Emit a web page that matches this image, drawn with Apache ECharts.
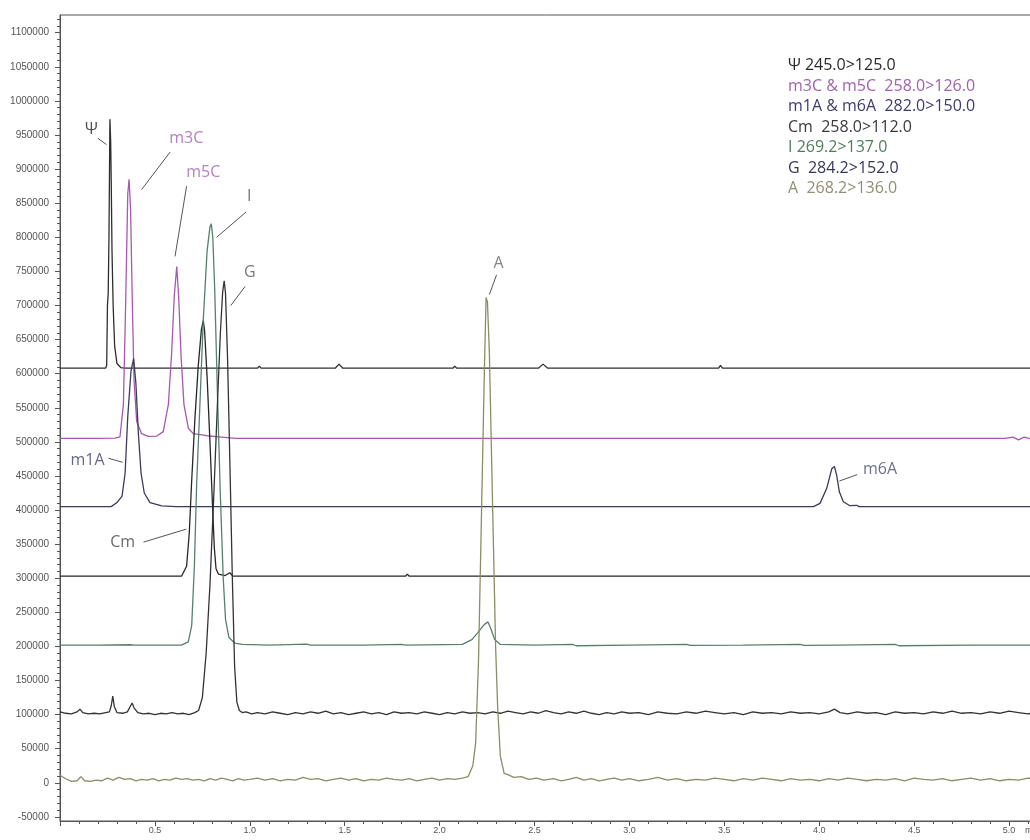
<!DOCTYPE html>
<html>
<head>
<meta charset="utf-8">
<script src="https://cdn.jsdelivr.net/npm/echarts@6/dist/echarts.min.js"></script>
<style>
  html, body { margin: 0; padding: 0; background: #fff; }
  #main { width: 1030px; height: 840px; }
</style>
</head>
<body>
<div id="main"></div>
<script>
// MRM traces: [retention time (min), intensity]
const psiTrace = [
  [0.000, 608000], [0.240, 608000], [0.246, 612000], [0.250, 700000], [0.254, 718000],
  [0.258, 800000], [0.263, 973000], [0.267, 940000], [0.270, 880000], [0.274, 780000],
  [0.280, 700000], [0.288, 640000], [0.300, 615000], [0.320, 609000], [0.340, 608000],
  [1.040, 608000], [1.050, 611000], [1.060, 608000], [1.450, 608000], [1.470, 614000],
  [1.490, 608000], [2.070, 608000], [2.080, 611000], [2.090, 608000], [2.520, 608000],
  [2.545, 614000], [2.570, 608000], [3.470, 608000], [3.480, 612000], [3.490, 608000],
  [3.860, 608000], [3.870, 610000], [3.880, 608000], [5.200, 608000]
];
const m3cM5cTrace = [
  [0.000, 505000], [0.200, 505000], [0.290, 505500], [0.316, 507500], [0.334, 555000],
  [0.346, 704000], [0.357, 864000], [0.364, 885000], [0.372, 839000], [0.381, 704000],
  [0.390, 590000], [0.404, 530000], [0.430, 512000], [0.465, 508000], [0.510, 508500],
  [0.544, 515000], [0.571, 555000], [0.588, 630000], [0.602, 714000], [0.615, 757000],
  [0.625, 714000], [0.638, 625000], [0.653, 555000], [0.676, 520000], [0.702, 512000],
  [0.773, 509000], [0.850, 507000], [0.930, 505000], [1.860, 505000], [1.870, 507000],
  [1.880, 505000], [4.980, 505000], [5.020, 507000], [5.050, 503000], [5.080, 507000],
  [5.120, 504000], [5.200, 505000]
];
const m1aM6aTrace = [
  [0.000, 405000], [0.270, 405000], [0.300, 411000], [0.327, 420500], [0.343, 454000],
  [0.357, 537000], [0.374, 604000], [0.388, 622000], [0.400, 585000], [0.413, 512000],
  [0.427, 454000], [0.444, 425000], [0.474, 411000], [0.536, 406000], [0.610, 405000],
  [3.970, 405000], [4.004, 409800], [4.039, 431500], [4.066, 460500], [4.080, 464000],
  [4.092, 450800], [4.106, 426700], [4.127, 412200], [4.162, 406400], [4.197, 407000],
  [4.210, 405000], [5.200, 405000]
];
const cmTrace = [
  [0.000, 303000], [0.640, 303000], [0.667, 317500], [0.681, 366000], [0.693, 438500],
  [0.710, 530000], [0.728, 610000], [0.745, 665000], [0.755, 678000], [0.762, 662000],
  [0.775, 595000], [0.790, 500000], [0.803, 410000], [0.813, 345000], [0.822, 314000],
  [0.835, 306000], [0.870, 304000], [0.895, 308000], [0.910, 303000], [1.820, 303000],
  [1.830, 306000], [1.840, 303000], [2.740, 303000], [2.750, 305000], [2.760, 303000],
  [5.200, 303000]
];
const iTrace = [
  [0.000, 202000], [0.200, 202000], [0.370, 202500], [0.380, 204500], [0.390, 202000],
  [0.640, 202000], [0.676, 206800], [0.694, 231000], [0.708, 318000], [0.720, 439000],
  [0.735, 540000], [0.755, 680000], [0.775, 780000], [0.790, 815000], [0.797, 820000],
  [0.805, 800000], [0.815, 725000], [0.830, 565000], [0.845, 420000], [0.860, 300000],
  [0.872, 240000], [0.890, 213000], [0.920, 205000], [0.960, 203000], [1.100, 202000],
  [1.300, 203500], [1.320, 202000], [1.600, 202000], [1.800, 203000], [1.820, 202000],
  [2.120, 203000], [2.170, 210000], [2.200, 220000], [2.235, 232000], [2.255, 236000],
  [2.270, 226000], [2.290, 210000], [2.320, 203000], [2.500, 202000], [2.700, 203000],
  [2.720, 201000], [3.000, 202000], [3.300, 203000], [3.320, 201500], [3.600, 202000],
  [3.900, 203000], [3.920, 201500], [4.100, 202000], [4.400, 203000], [4.420, 201000],
  [4.800, 202000], [5.200, 202000]
];
const gTrace = [
  [0.00, 104000], [0.03, 102000], [0.06, 101000], [0.09, 104000], [0.105, 108000],
  [0.12, 103000], [0.15, 101000], [0.18, 102000], [0.21, 101000], [0.24, 103000],
  [0.26, 104000], [0.27, 113000], [0.278, 127000], [0.286, 112000], [0.30, 103000],
  [0.33, 102000], [0.355, 104000], [0.37, 112000], [0.38, 117000], [0.39, 110000],
  [0.41, 103000], [0.44, 101000], [0.47, 102000], [0.50, 100000], [0.53, 102000],
  [0.56, 101000], [0.59, 103000], [0.62, 101000], [0.65, 102000], [0.68, 100000],
  [0.71, 103000], [0.73, 106000], [0.75, 125000], [0.77, 190000], [0.79, 290000],
  [0.81, 420000], [0.83, 560000], [0.845, 660000], [0.857, 720000], [0.865, 736000],
  [0.872, 718000], [0.883, 620000], [0.895, 470000], [0.908, 300000], [0.92, 170000],
  [0.932, 118000], [0.945, 106000], [0.96, 103000], [0.98, 104000], [1.01, 101000],
  [1.04, 103000], [1.08, 101000], [1.12, 104000], [1.16, 102000], [1.20, 100000],
  [1.24, 103000], [1.28, 101000], [1.32, 104000], [1.36, 102000], [1.40, 105000],
  [1.44, 101000], [1.48, 103000], [1.52, 100000], [1.56, 102000], [1.60, 104000],
  [1.64, 101000], [1.68, 103000], [1.72, 100000], [1.76, 104000], [1.80, 102000],
  [1.84, 103000], [1.88, 101000], [1.92, 104000], [1.96, 102000], [2.00, 100000],
  [2.04, 103000], [2.08, 101000], [2.12, 104000], [2.16, 102000], [2.20, 103000],
  [2.24, 101000], [2.28, 104000], [2.32, 102000], [2.36, 105000], [2.40, 103000],
  [2.44, 101000], [2.48, 104000], [2.52, 102000], [2.56, 106000], [2.60, 103000],
  [2.64, 101000], [2.68, 104000], [2.72, 102000], [2.76, 105000], [2.80, 102000],
  [2.84, 100000], [2.88, 103000], [2.92, 101000], [2.96, 104000], [3.00, 102000],
  [3.05, 103000], [3.10, 100000], [3.15, 104000], [3.20, 102000], [3.25, 101000],
  [3.30, 104000], [3.35, 102000], [3.40, 105000], [3.45, 103000], [3.50, 101000],
  [3.55, 103000], [3.60, 100000], [3.65, 104000], [3.70, 102000], [3.75, 103000],
  [3.80, 101000], [3.85, 104000], [3.90, 102000], [3.95, 103000], [4.00, 101000],
  [4.05, 104000], [4.08, 108000], [4.11, 103000], [4.15, 101000], [4.20, 104000],
  [4.25, 102000], [4.30, 103000], [4.35, 100000], [4.40, 104000], [4.45, 102000],
  [4.50, 103000], [4.55, 101000], [4.60, 104000], [4.65, 102000], [4.70, 105000],
  [4.75, 102000], [4.80, 103000], [4.85, 101000], [4.90, 104000], [4.95, 102000],
  [5.00, 105000], [5.05, 103000], [5.10, 101000], [5.15, 104000], [5.20, 103000]
];
const aTrace = [
  [0.00, 11000], [0.03, 6000], [0.06, 2000], [0.09, 3000], [0.11, 9000], [0.13, 3000],
  [0.16, 2000], [0.19, 4000], [0.22, 3000], [0.25, 7000], [0.28, 4000], [0.31, 8000],
  [0.34, 5000], [0.37, 6000], [0.40, 3000], [0.43, 5000], [0.46, 4000], [0.49, 6000],
  [0.52, 3000], [0.55, 5000], [0.58, 4000], [0.61, 7000], [0.64, 5000], [0.67, 6000],
  [0.70, 4000], [0.73, 5000], [0.76, 3000], [0.79, 6000], [0.82, 4000], [0.85, 7000],
  [0.88, 5000], [0.91, 3000], [0.94, 6000], [0.97, 4000], [1.00, 5000], [1.04, 7000],
  [1.08, 4000], [1.12, 6000], [1.16, 3000], [1.20, 5000], [1.24, 4000], [1.28, 8000],
  [1.32, 5000], [1.36, 6000], [1.40, 3000], [1.44, 5000], [1.48, 7000], [1.52, 4000],
  [1.56, 6000], [1.60, 3000], [1.64, 5000], [1.68, 4000], [1.72, 7000], [1.76, 5000],
  [1.80, 4000], [1.84, 6000], [1.88, 3000], [1.92, 5000], [1.96, 7000], [2.00, 4000],
  [2.04, 6000], [2.08, 5000], [2.12, 7000], [2.15, 9000], [2.175, 25000], [2.19, 59000],
  [2.205, 180000], [2.218, 358000], [2.236, 607000], [2.245, 712000], [2.252, 705000],
  [2.262, 632000], [2.279, 408000], [2.295, 200000], [2.306, 109000], [2.32, 39000],
  [2.34, 14000], [2.36, 12000], [2.39, 8000], [2.43, 9000], [2.47, 5000], [2.51, 7000],
  [2.55, 4000], [2.60, 6000], [2.64, 3000], [2.68, 5000], [2.72, 8000], [2.76, 4000],
  [2.80, 6000], [2.84, 3000], [2.88, 5000], [2.92, 7000], [2.96, 4000], [3.00, 6000],
  [3.05, 3000], [3.10, 5000], [3.15, 8000], [3.20, 4000], [3.25, 6000], [3.30, 3000],
  [3.35, 5000], [3.40, 4000], [3.45, 7000], [3.50, 5000], [3.55, 3000], [3.60, 6000],
  [3.65, 4000], [3.70, 7000], [3.75, 5000], [3.80, 3000], [3.85, 6000], [3.90, 4000],
  [3.95, 5000], [4.00, 3000], [4.05, 6000], [4.10, 4000], [4.15, 7000], [4.20, 5000],
  [4.25, 3000], [4.30, 5000], [4.35, 4000], [4.40, 6000], [4.45, 3000], [4.50, 7000],
  [4.55, 5000], [4.60, 4000], [4.65, 6000], [4.70, 3000], [4.75, 5000], [4.80, 7000],
  [4.85, 4000], [4.90, 6000], [4.95, 3000], [5.00, 5000], [5.05, 4000], [5.10, 7000],
  [5.15, 5000], [5.20, 4000]
];

const traceNames = [
  'Ψ 245.0>125.0',
  'm3C & m5C  258.0>126.0',
  'm1A & m6A  282.0>150.0',
  'Cm  258.0>112.0',
  'I 269.2>137.0',
  'G  284.2>152.0',
  'A  268.2>136.0'
];
const traceColors = ['#2e2e2e', '#a659ae', '#3b3b5a', '#262626', '#56806a', '#333333', '#8c8c66'];
const legendColors = ['#2a2a2a', '#a062b0', '#3c3c70', '#3a3a3a', '#4f7f5a', '#36365a', '#8f8f74'];
const traces = [psiTrace, m3cM5cTrace, m1aM6aTrace, cmTrace, iTrace, gTrace, aTrace];

// y-axis tick labels
const yTickValues = [
  -50000, 0, 50000, 100000, 150000, 200000, 250000, 300000, 350000, 400000, 450000,
  500000, 550000, 600000, 650000, 700000, 750000, 800000, 850000, 900000, 950000,
  1000000, 1050000, 1100000
];

// peak annotations: label position and leader line, in data units
const peakLabels = [
  { text: 'Ψ', at: [0.165, 958000], from: [0.2, 945000], to: [0.245, 936000], color: '#222' },
  { text: 'm3C', at: [0.665, 945000], from: [0.58, 925000], to: [0.43, 870000], color: '#a062b0' },
  { text: 'm5C', at: [0.755, 895000], from: [0.667, 875000], to: [0.606, 772000], color: '#a062b0' },
  { text: 'I', at: [0.997, 860000], from: [0.98, 837000], to: [0.825, 800000], color: '#555' },
  { text: 'G', at: [1.0, 748000], from: [0.975, 728000], to: [0.90, 700000], color: '#555' },
  { text: 'A', at: [2.31, 762000], from: [2.30, 745000], to: [2.262, 716000], color: '#666' },
  { text: 'm1A', at: [0.145, 473000], from: [0.255, 476000], to: [0.33, 470000], color: '#3f3f72' },
  { text: 'Cm', at: [0.33, 352000], from: [0.44, 353000], to: [0.665, 372000], color: '#444' },
  { text: 'm6A', at: [4.32, 460000], from: [4.2, 452000], to: [4.106, 442500], color: '#4a4a70' }
];

const minorTicks = [];
for (let v = -50000; v <= 1120000; v += 10000) minorTicks.push(v);

const chart = echarts.init(document.getElementById('main'));

const series = traces.map((d, i) => ({
  name: traceNames[i],
  type: 'line',
  data: d,
  showSymbol: false,
  symbol: 'none',
  smooth: false,
  lineStyle: { color: traceColors[i], width: 1.3 },
  itemStyle: { color: traceColors[i] },
  z: 2
}));

series.push({
  name: 'labels',
  type: 'scatter',
  symbolSize: 1,
  itemStyle: { color: 'transparent' },
  data: peakLabels.map(p => ({
    value: p.at,
    label: { show: true, position: 'inside', formatter: p.text, color: p.color }
  })),
  label: { fontFamily: 'Open Sans', fontSize: 16 },
  markLine: {
    silent: true,
    symbol: ['none', 'none'],
    label: { show: false },
    lineStyle: { color: '#555', width: 1, type: 'solid' },
    data: peakLabels.map(p => [{ coord: p.from }, { coord: p.to }])
  },
  z: 3
});

chart.setOption({
  animation: false,
  backgroundColor: '#fff',
  grid: {
    left: 60, right: -17, top: 15, bottom: 19,
    containLabel: false,
    outerBoundsMode: 'none',
    show: true, borderColor: '#555', borderWidth: 1
  },
  legend: {
    orient: 'vertical',
    left: 778, top: 52,
    icon: 'none',
    itemWidth: 0, itemHeight: 17, itemGap: 4,
    selectedMode: false,
    textStyle: { fontFamily: 'Open Sans', fontSize: 16 },
    data: traceNames.map((n, i) => ({ name: n, textStyle: { color: legendColors[i] } }))
  },
  xAxis: {
    type: 'value',
    min: 0, max: 5.2, interval: 0.5,
    name: 'min', nameLocation: 'end', nameGap: -22,
    nameTextStyle: { color: '#555', fontSize: 9, verticalAlign: 'top', padding: [5, 0, 0, 0] },
    axisLine: { onZero: false, lineStyle: { color: '#555', width: 1 } },
    axisTick: { length: 5, lineStyle: { color: '#555' } },
    minorTick: { show: true, splitNumber: 5, length: 3, lineStyle: { color: '#555' } },
    splitLine: { show: false },
    axisLabel: {
      color: '#555', fontSize: 9, margin: 5, fontFamily: 'Liberation Sans',
      formatter: v => (v === 0 || v > 5 ? '' : v.toFixed(1))
    }
  },
  yAxis: [
    {
      type: 'value',
      min: -56000, max: 1126000,
      axisLine: { show: true, onZero: false, lineStyle: { color: '#555', width: 1 } },
      axisTick: { show: true, length: 5, customValues: yTickValues, lineStyle: { color: '#555' } },
      axisLabel: {
        color: '#555', fontSize: 10, margin: 11, fontFamily: 'Liberation Sans',
        customValues: yTickValues,
        formatter: v => String(v)
      },
      splitLine: { show: false }
    },
    {
      type: 'value',
      position: 'left',
      min: -56000, max: 1126000,
      axisLine: { show: false },
      axisTick: { show: true, length: 3, customValues: minorTicks, lineStyle: { color: '#555' } },
      axisLabel: { show: false },
      splitLine: { show: false }
    }
  ],
  series: series
});
</script>
</body>
</html>
